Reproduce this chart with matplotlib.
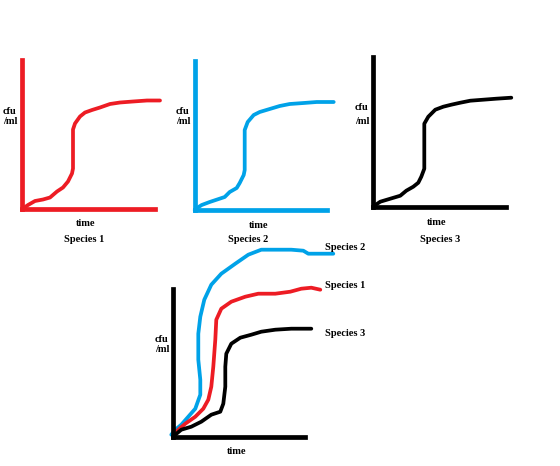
import matplotlib
matplotlib.use('Agg')
import matplotlib.pyplot as plt

W, H = 560, 466
RED = '#ed1c24'
BLUE = '#00a2e8'
BLACK = '#000000'

# curves (time, cfu/ml) in arbitrary units
sp1_t = [0, 1, 6, 13, 21, 28, 35, 41, 46, 50, 51, 51, 51, 53, 58, 63, 70, 78, 88, 98, 111, 125, 138]
sp1_c = [0, 1, 4.5, 8.5, 10, 12, 18, 22, 28, 36, 41, 60, 80, 86, 93, 97, 99.5, 102, 105.5, 107, 108, 109, 109]

sp2_t = [0, 0.3, 7, 15, 24, 30, 35, 42, 45, 49, 50, 50, 50, 53, 59, 65, 75, 85, 95, 109, 122, 139]
sp2_c = [0, 0.7, 5, 8, 11, 13, 18, 22, 27, 35, 40, 60, 80, 88, 95, 98, 101, 104, 106, 107, 108, 108]

sp3_t = [0, 1, 7, 17, 27, 33, 40, 45, 48, 51, 51, 51, 55, 62, 70, 78, 87, 97, 110, 123, 138]
sp3_c = [0, 1, 5, 8, 11, 16, 20, 24, 30, 38, 57, 83, 90, 97, 100, 102, 104, 106, 107, 108, 109]

# combined panel
comb2_t = [-2, 2, 8, 15, 22, 27, 27, 25, 25, 27, 31, 38, 48, 62, 75, 88, 102, 118, 130, 135, 148, 160]
comb2_c = [2, 7, 12, 20, 28, 42, 57, 77, 103, 120, 137, 152, 163, 173, 182, 187, 187, 187, 186, 183, 183, 183]
comb1_t = [0, 5, 12, 22, 30, 35, 38, 40, 42, 43, 48, 58, 72, 85, 102, 117, 128, 138, 147]
comb1_c = [0, 7, 13, 20, 28, 37, 50, 70, 97, 117, 128, 135, 140, 143, 143, 145, 148, 149, 147]
comb3_t = [0, 2, 8, 18, 28, 38, 47, 50, 52, 52, 53, 58, 67, 78, 88, 102, 118, 138]
comb3_c = [0, 2, 7, 10, 15, 22, 25, 33, 50, 70, 83, 93, 99, 102, 105, 107, 108, 108]


def fig_xy(x, y):
    return x / W, 1 - y / H


def panel(fig, x0, y0, xlen, ylen, color):
    """Axes whose origin sits at pixel (x0, y0), spines only"""
    ax = fig.add_axes([x0 / W, 1 - y0 / H, xlen / W, ylen / H])
    ax.set_xlim(0, xlen)
    ax.set_ylim(0, ylen)
    ax.patch.set_visible(False)
    for s in ['top', 'right']:
        ax.spines[s].set_visible(False)
    for s in ['left', 'bottom']:
        ax.spines[s].set_color(color)
        ax.spines[s].set_linewidth(3.4)
        ax.spines[s].set_capstyle('projecting')
    ax.set_xticks([])
    ax.set_yticks([])
    return ax


def curve(ax, t, c, color):
    ax.plot(t, c, color=color, lw=2.7, clip_on=False,
            solid_capstyle='round', solid_joinstyle='round')


def label(fig, x, y, s, ha='center'):
    fig.text(*fig_xy(x, y), s, ha=ha, va='center', fontsize=7.5,
             family='Liberation Serif', weight='bold')


fig = plt.figure(figsize=(W / 100, H / 100), dpi=100)

ax1 = panel(fig, 22, 209.5, 133, 149, RED)
curve(ax1, sp1_t, sp1_c, RED)
label(fig, 3, 112, 'cfu', ha='left')
label(fig, 3, 122, '/ml', ha='left')
label(fig, 86, 223, 'time')
label(fig, 84, 239, 'Species 1')

ax2 = panel(fig, 194.7, 210, 132, 149, BLUE)
curve(ax2, sp2_t, sp2_c, BLUE)
label(fig, 176, 112, 'cfu', ha='left')
label(fig, 176, 122, '/ml', ha='left')
label(fig, 259, 225, 'time')
label(fig, 248, 240, 'Species 2')

ax3 = panel(fig, 373.3, 206.7, 133, 150, BLACK)
curve(ax3, sp3_t, sp3_c, BLACK)
label(fig, 355, 107, 'cfu', ha='left')
label(fig, 355, 122, '/ml', ha='left')
label(fig, 437, 222, 'time')
label(fig, 440, 240, 'Species 3')

ax4 = panel(fig, 173.3, 436.7, 132, 148, BLACK)
curve(ax4, comb2_t, comb2_c, BLUE)
curve(ax4, comb1_t, comb1_c, RED)
curve(ax4, comb3_t, comb3_c, BLACK)
label(fig, 155, 339, 'cfu', ha='left')
label(fig, 155, 350, '/ml', ha='left')
label(fig, 237, 452, 'time')
label(fig, 325, 248, 'Species 2', ha='left')
label(fig, 325, 285, 'Species 1', ha='left')
label(fig, 325, 333, 'Species 3', ha='left')

fig.savefig('out.png', dpi=100)
